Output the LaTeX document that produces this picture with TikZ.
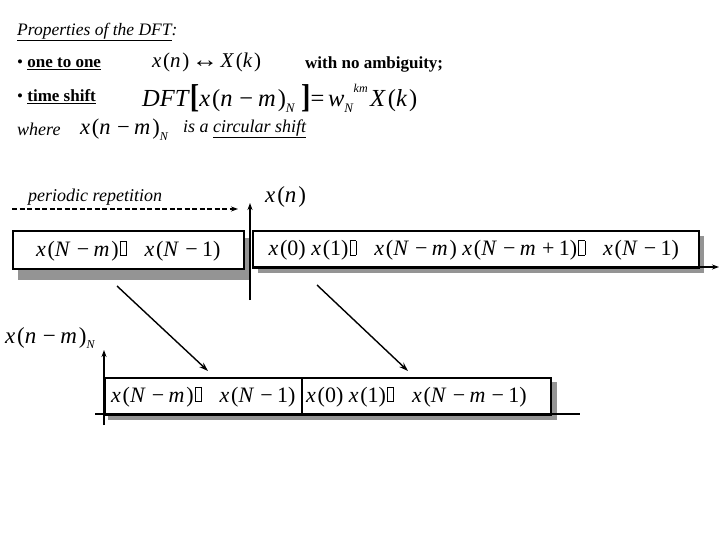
\documentclass[tikz,border=0pt]{standalone}
\usepackage{fontspec}
\setmainfont{Liberation Serif}
\usetikzlibrary{arrows.meta}
\newcommand\vi[1]{\textit{#1}\kern0.08em}
\newcommand\mn{\kern0.2em−\kern0.2em}
\newcommand\pl{\kern0.2em+\kern0.2em}
\newcommand\gbx{{\setlength\fboxsep{0pt}\setlength\fboxrule{0.6pt}\kern0.05em\raisebox{0.05em}{\fbox{\rule{0pt}{0.62em}\hspace{0.26em}}}}}
\newcommand\fs[1]{\fontsize{#1}{#1}\selectfont}
\newcommand\sbN[1]{\raisebox{-0.55ex}{\fs{#1}\textit{N}}}
\tikzset{
  txt/.style={anchor=west,inner sep=0pt},
  seqbox/.style={draw,line width=1.6pt,fill=white},
  shadowbox/.style={fill=black!42,draw=none},
  axis/.style={line width=1.2pt,-{Stealth[length=7pt,width=5pt]}},
  diag/.style={line width=1.4pt,-{Stealth[length=9pt,width=6pt]}},
  seqtxt/.style={inner sep=0pt,font=\fs{22}}
}
\begin{document}
\begin{tikzpicture}[x=1pt,y=-1pt]
\useasboundingbox[fill=white] (0,0) rectangle (720,540);
% header text
\node[txt,font=\fs{17.5}] (t1) at (17,32) {\itshape\underline{Properties of the DFT}:};
\node[txt,font=\fs{17}] (t2) at (17,64) {• \textbf{\underline{one to one}}};
\node[txt,font=\fs{21}] (t2m) at (152,62) {\vi{x}(\vi{n})\kern0.12em\scalebox{1.25}[1.1]{↔}\kern0.12em\vi{X}(\vi{k})};
\node[txt,font=\fs{17}] (t2b) at (305,64) {\textbf{with no ambiguity;}};
\node[txt,font=\fs{17}] (t3) at (17,97) {• \textbf{\underline{time shift}}};
\node[txt,font=\fs{24.5}] (t3m) at (142,98) {\textit{DFT}\raisebox{-0.12ex}{\scalebox{1.15}[1.35]{\textbf{[}}}\vi{x}(\vi{n}\mn\vi{m})\sbN{13}\hspace{6pt}\raisebox{-0.12ex}{\scalebox{1.15}[1.35]{\textbf{]}}}=\kern0.15em\textit{w}\sbN{13}\raisebox{1.25ex}{\fs{12}\textit{km}}\kern0.1em\vi{X}(\vi{k})};
\node[txt,font=\fs{18}] (t4) at (17,129) {\itshape where};
\node[txt,font=\fs{22.5}] (t4m) at (80,130) {\vi{x}(\vi{n}\mn\vi{m})\sbN{12}};
\node[txt,font=\fs{18}] (t4b) at (183,129) {\itshape is a \underline{circular shift}};
% periodic repetition
\node[txt,font=\fs{18}] (pr) at (28,197) {\itshape periodic repetition};
\coordinate (d1) at (12,209);
\coordinate (d2) at (238,209);
\draw[line width=1.2pt,dash pattern=on 5pt off 2.5pt,-{Stealth[length=7pt,width=5pt]}] (d1) -- (d2);
% top boxes
\fill[shadowbox] (18,238) rectangle (249,280);
\fill[shadowbox] (258,236) rectangle (704,273);
\node[seqbox,minimum width=231pt,minimum height=38pt,anchor=north west,inner sep=0pt] (bl) at (12,230) {};
\node[seqbox,minimum width=446pt,minimum height=37pt,anchor=north west,inner sep=0pt] (br) at (252,230) {};
\node[seqtxt] (blt) at ([yshift=-1pt]bl.center) {\vi{x}(\vi{N}\mn\vi{m})\gbx\hspace{18pt}\vi{x}(\vi{N}\mn1)};
\node[seqtxt] (brt) at ([xshift=-2pt,yshift=-1pt]br.center) {\vi{x}(0) \vi{x}(1)\gbx\hspace{18pt}\vi{x}(\vi{N}\mn\vi{m}) \vi{x}(\vi{N}\mn\vi{m}\pl1)\gbx\hspace{18pt}\vi{x}(\vi{N}\mn1)};
% top axes
\coordinate (ya0) at (250,300);
\coordinate (ya1) at (250,203);
\draw[axis] (ya0) -- (ya1);
\coordinate (xa0) at (252,267);
\coordinate (xa1) at (719,267);
\draw[axis] (xa0) -- (xa1);
\node[txt,font=\fs{23}] (xn) at (265,197) {\vi{x}(\vi{n})};
% diagonal arrows
\coordinate (a1s) at (117,286);
\coordinate (a1e) at (208,371);
\coordinate (a2s) at (317,285);
\coordinate (a2e) at (408,371);
\draw[diag] (a1s) -- (a1e);
\draw[diag] (a2s) -- (a2e);
% bottom
\node[txt,font=\fs{23}] (xnm) at (5,338) {\vi{x}(\vi{n}\mn\vi{m})\sbN{12}};
\fill[shadowbox] (108,382) rectangle (557,420);
\node[seqbox,minimum width=446pt,minimum height=37pt,anchor=north west,inner sep=0pt] (bb) at (104,377) {};
\coordinate (dv0) at (302,377);
\coordinate (dv1) at (302,414);
\draw[line width=1.6pt] (dv0) -- (dv1);
\node[seqtxt,anchor=west] (bbl) at (111,397) {\vi{x}(\vi{N}\mn\vi{m})\gbx\hspace{18pt}\vi{x}(\vi{N}\mn1)};
\node[seqtxt,anchor=west] (bbr) at (306,397) {\vi{x}(0) \vi{x}(1)\gbx\hspace{18pt}\vi{x}(\vi{N}\mn\vi{m}\mn1)};
\coordinate (yb0) at (104,425);
\coordinate (yb1) at (104,350);
\draw[axis] (yb0) -- (yb1);
\coordinate (xb0) at (95,414);
\coordinate (xb1) at (580,414);
\draw[line width=1.2pt] (xb0) -- (xb1);
\end{tikzpicture}
\end{document}
